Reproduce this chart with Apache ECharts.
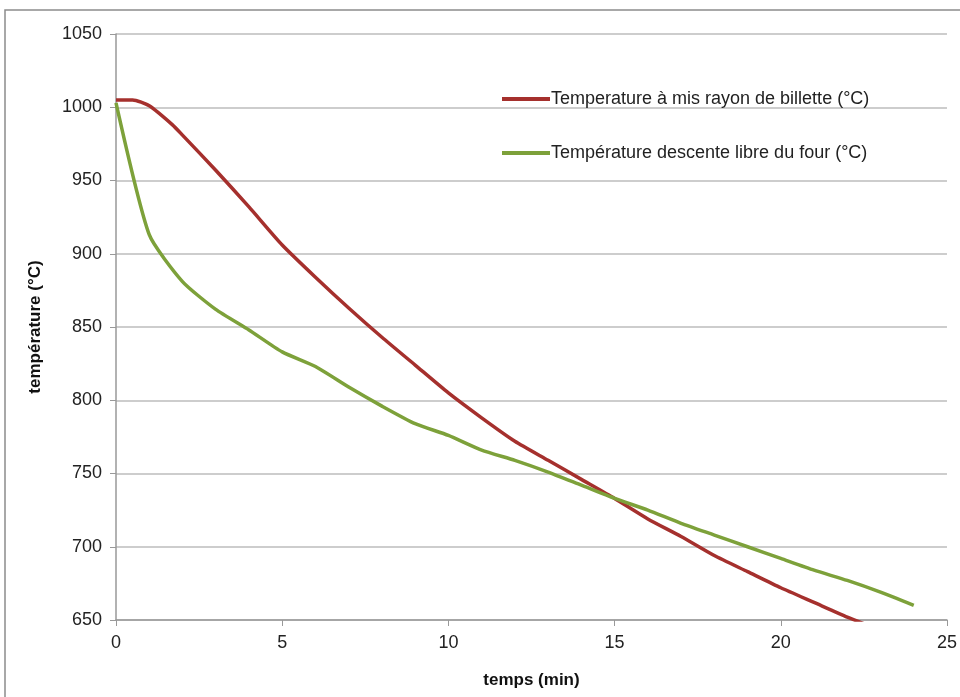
<!DOCTYPE html>
<html><head><meta charset="utf-8">
<script src="https://cdn.jsdelivr.net/npm/echarts@6/dist/echarts.min.js"></script>
<style>html,body{margin:0;padding:0;background:#fff}#c{width:960px;height:697px}</style>
</head><body><div id="c"></div>
<script>
const seriesNames = ['Temperature à mis rayon de billette (°C)', 'Température descente libre du four (°C)'];
const redX = [0, 0.5, 1, 1.7, 2, 3, 4, 5, 6, 7, 8, 9, 10, 11, 12, 13, 14, 15, 16, 17, 18, 19, 20, 21, 22, 23];
const redY = [1005, 1005, 1001, 988, 981, 957, 932, 906, 884, 863, 843, 824, 805, 788, 772, 759, 746, 733, 719, 707, 694, 683, 672, 662, 652, 643];
const greenX = [0, 1, 2, 3, 4, 5, 6, 7, 8, 9, 10, 11, 12, 13, 14, 15, 16, 17, 18, 19, 20, 21, 22, 23, 24];
const greenY = [1003, 913, 881, 862, 848, 833, 823, 809, 796, 784, 776, 766, 759, 751, 742, 733, 725, 716, 708, 700, 692, 684, 677, 669, 660];
const xTicks = [0, 5, 10, 15, 20, 25];
const yTicks = [650, 700, 750, 800, 850, 900, 950, 1000, 1050];
const xName = 'temps (min)';
const yName = 'température (°C)';

const font = 'Liberation Sans Narrow, Liberation Sans, sans-serif';
const chart = echarts.init(document.getElementById('c'));
chart.setOption({
  animation: false,
  backgroundColor: '#fff',
  graphic: [{type: 'rect', shape: {x: 5, y: 10, width: 1000, height: 720}, style: {fill: 'none', stroke: '#8c8c8c', lineWidth: 1.5}, z: -1}],
  grid: {left: 116, right: 12, top: 34, bottom: 77, containLabel: false},
  legend: {
    orient: 'vertical', left: 497, top: 85, itemGap: 36,
    icon: 'rect', itemWidth: 48, itemHeight: 4,
    textStyle: {fontFamily: font, fontSize: 18, color: '#222', padding: [0, 0, 0, -4]},
    data: seriesNames
  },
  xAxis: {
    type: 'value', min: xTicks[0], max: xTicks[xTicks.length - 1], interval: 5,
    name: xName, nameLocation: 'middle', nameGap: 52,
    nameTextStyle: {fontFamily: font, fontSize: 17, fontWeight: 'bold', color: '#111'},
    axisLine: {show: true, lineStyle: {color: '#999', width: 1.5}},
    axisTick: {show: true, length: 6, lineStyle: {color: '#999'}},
    axisLabel: {fontFamily: font, fontSize: 18, color: '#222', margin: 14},
    splitLine: {show: false}
  },
  yAxis: {
    type: 'value', min: yTicks[0], max: yTicks[yTicks.length - 1], interval: 50,
    name: yName, nameLocation: 'middle', nameGap: 72, nameRotate: 90,
    nameTextStyle: {fontFamily: font, fontSize: 17, fontWeight: 'bold', color: '#111'},
    axisLine: {show: true, lineStyle: {color: '#999', width: 1.5}},
    axisTick: {show: true, length: 6, lineStyle: {color: '#999'}},
    axisLabel: {fontFamily: font, fontSize: 18, color: '#222', margin: 14, formatter: v => String(v)},
    splitLine: {show: true, lineStyle: {color: '#bdbdbd', width: 1.5}}
  },
  series: [
    {name: seriesNames[0], type: 'line', showSymbol: false, symbol: 'none', smooth: 0.2, clip: true,
     color: '#A5302D', lineStyle: {width: 3.5, color: '#A5302D'},
     data: redX.map((x, i) => [x, redY[i]])},
    {name: seriesNames[1], type: 'line', showSymbol: false, symbol: 'none', smooth: 0.2, clip: true,
     color: '#7DA13A', lineStyle: {width: 3.5, color: '#7DA13A'},
     data: greenX.map((x, i) => [x, greenY[i]])}
  ]
});
</script></body></html>
